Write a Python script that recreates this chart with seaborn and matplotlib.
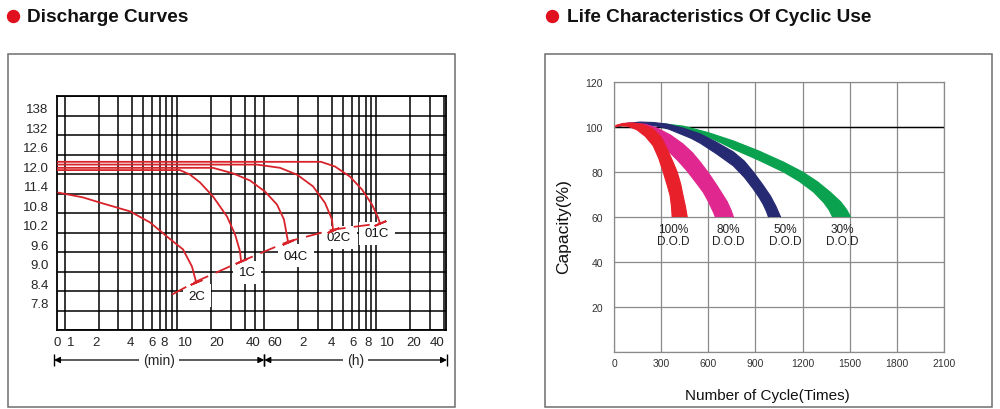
import numpy as np
import pandas as pd
import matplotlib
matplotlib.use("Agg")
import matplotlib.pyplot as plt
import seaborn as sns
from matplotlib.patches import Rectangle
from matplotlib.lines import Line2D
from matplotlib.ticker import FixedLocator, NullFormatter
from matplotlib.transforms import ScaledTranslation

# ---------------- Discharge curves (time in minutes, voltage) ----------------
c2_t = [0.868, 1.449, 2.055, 3.805, 5.74, 8.30, 11.30, 13.59, 14.75]
c2_v = [11.43, 11.28, 11.12, 10.85, 10.51, 10.05, 9.68, 9.15, 8.69]
c1_t = [0.85, 10.62, 13.05, 16.01, 20.9, 27.9, 32.9, 36.4, 37.2]
c1_v = [12.12, 12.12, 11.98, 11.74, 11.31, 10.69, 10.14, 9.62, 9.31]
c04_t = [0.85, 20.9, 31.5, 44.7, 60.8, 77.8, 89.8, 97.5]
c04_v = [12.19, 12.19, 12.02, 11.80, 11.46, 11.06, 10.60, 9.92]
c02_t = [0.85, 51.6, 82.8, 117.3, 163, 208.5, 240.7, 245.7]
c02_v = [12.29, 12.29, 12.19, 11.98, 11.62, 11.11, 10.60, 10.29]
c01_t = [0.85, 192, 256, 348, 446, 547, 619, 645]
c01_v = [12.375, 12.375, 12.23, 11.92, 11.52, 11.06, 10.66, 10.48]
end_t = [9.01, 14.75, 37.2, 97.5, 245.7, 645]
end_v = [8.29, 8.69, 9.31, 9.92, 10.29, 10.48]

rate_names = ["2C", "1C", "04C", "02C", "01C"]
rate_lab_t = [15.1, 42, 115, 278, 607]
rate_lab_v = [8.26, 8.97, 9.49, 10.05, 10.17]

xtick_t = [0.85, 1, 2, 4, 6, 8, 10, 20, 40, 60, 120, 240, 360, 480, 600, 1200, 2400]
xtick_lab = ["0", "1", "2", "4", "6", "8", "10", "20", "40", "60",
             "2", "4", "6", "8", "10", "20", "40"]
ytick_v = [7.2, 7.8, 8.4, 9.0, 9.6, 10.2, 10.8, 11.4, 12.0, 12.6, 13.2, 13.8, 14.4]
ytick_lab = ["", "7.8", "8.4", "9.0", "9.6", "10.2", "10.8", "11.4", "12.0",
             "12.6", "132", "138", ""]

# ---------------- Cycle life bands (cycles, capacity %) ----------------
red_out_x = [0, 20, 60, 121, 185, 249, 300, 338, 372, 402, 425, 440, 455, 466]
red_out_y = [100, 100.9, 101.6, 101.8, 101.1, 99.1, 95.5, 90.2, 85, 80, 74.5, 69.3, 64.5, 60]
red_in_x = [0, 38, 90, 145, 200, 249, 285, 313, 337, 357, 366, 370]
red_in_y = [100, 100.6, 100.3, 98.8, 95.8, 91.7, 86, 80, 74.5, 69.5, 64.5, 60]

pink_out_x = [0, 50, 100, 200, 274, 360, 440, 500, 549, 605, 657, 693, 721, 745, 760]
pink_out_y = [100, 101.3, 101.8, 101.2, 99.5, 96.4, 92.4, 88.5, 84.4, 79.2, 73.8, 69.8, 66.7, 63, 60]
pink_in_x = [0, 60, 150, 230, 290, 338, 405, 466, 520, 568, 600, 620, 635, 645]
pink_in_y = [100, 101, 99.5, 96, 92.9, 89.8, 85.2, 80.4, 75.5, 71, 67, 64, 61.8, 60]

navy_out_x = [0, 80, 166, 250, 338, 440, 549, 650, 760, 830, 887, 945, 996, 1030, 1060]
navy_out_y = [100, 101.6, 102.2, 102, 101.3, 99.5, 96.9, 93.3, 88.9, 84.8, 80, 74.5, 69.3, 64.8, 60]
navy_in_x = [0, 120, 200, 274, 350, 420, 490, 549, 650, 760, 830, 887, 925, 950, 970, 983]
navy_in_y = [100, 101.5, 101.1, 100.4, 99, 97, 95, 92.8, 88.2, 82.7, 77.6, 72.4, 68.5, 65.5, 62.5, 60]

green_out_x = [0, 120, 230, 330, 440, 600, 760, 920, 1079, 1200, 1296, 1380, 1443, 1480, 1506]
green_out_y = [100, 101.6, 101.8, 101.3, 100.4, 97.5, 93.8, 89.4, 84.4, 80, 75.6, 70.8, 66.7, 63.3, 60]
green_in_x = [0, 100, 200, 300, 402, 500, 600, 680, 760, 920, 1079, 1180, 1270, 1335, 1370, 1391]
green_in_y = [100, 101, 101.3, 100.7, 99.6, 97.8, 95.5, 93, 90.2, 85.3, 80, 75.8, 71.1, 66.4, 63, 60]

dod_labels = ["100%\nD.O.D", "80%\nD.O.D", "50%\nD.O.D", "30%\nD.O.D"]
dod_x = [377, 725, 1090, 1450]
dod_y = [57.5, 57.5, 57.5, 57.5]

# ---------------- style ----------------
sns.set_style("white")
plt.rcParams["font.family"] = ["Liberation Sans", "DejaVu Sans"]
RED = "#d8232a"

fig = plt.figure(figsize=(10, 4.1), dpi=100)

# outer frames
for x0 in (8 / 1000, 545 / 1000):
    fig.add_artist(Rectangle((x0, 2 / 410), 447 / 1000, 353 / 410,
                             transform=fig.transFigure, fill=False,
                             ec="#6e6e6e", lw=1.1))

# titles with red dots
for xd, xt, title in ((13, 27, "Discharge Curves"),
                      (552, 567, "Life Characteristics Of Cyclic Use")):
    fig.add_artist(Line2D([xd / 1000], [1 - 17 / 410], marker="o", ms=8.6,
                          color="#e0101e", transform=fig.transFigure))
    fig.text(xt / 1000, 1 - 17 / 410, title, fontsize=13.7, weight="bold",
             va="center", ha="left", color="#111111")

# ================= Left chart =================
axL = fig.add_axes([57 / 1000, 1 - 331 / 410, 389 / 1000, 234 / 410])
axL.set_xscale("log")
axL.set_xlim(0.85, 2500)
axL.set_ylim(7.2, 14.4)

grid_t = list(range(1, 11)) + [20, 30, 40, 50, 60] + \
    [60 * h for h in range(2, 11)] + [1200, 1800, 2400]
axL.xaxis.remove_overlapping_locs = False
axL.xaxis.set_minor_locator(FixedLocator(grid_t))
axL.xaxis.set_minor_formatter(NullFormatter())
axL.set_xticks(xtick_t)
axL.set_xticklabels(xtick_lab, fontsize=9.5)
axL.set_yticks(ytick_v)
axL.set_yticklabels(ytick_lab, fontsize=9.5, va="bottom")
axL.tick_params(axis="both", which="both", length=0)
axL.tick_params(axis="x", pad=4)
axL.tick_params(axis="y", pad=6)
axL.grid(True, which="minor", axis="x", color="black", lw=1.1)
axL.grid(True, which="major", axis="y", color="black", lw=1.1)
axL.grid(False, which="major", axis="x")
for s in axL.spines.values():
    s.set_color("black")
    s.set_linewidth(1.3)

curves = pd.concat([
    pd.DataFrame({"t": t, "v": v, "rate": r})
    for t, v, r in ((c2_t, c2_v, "2C"), (c1_t, c1_v, "1C"), (c04_t, c04_v, "04C"),
                    (c02_t, c02_v, "02C"), (c01_t, c01_v, "01C"))
])
sns.lineplot(data=curves, x="t", y="v", units="rate", estimator=None,
             sort=False, color=RED, lw=1.3, ax=axL, zorder=4)
sns.lineplot(x=end_t, y=end_v, sort=False, color=RED, lw=1.3,
             linestyle=(0, (9, 4.5)), ax=axL, zorder=4)
axL.plot(end_t[1:], end_v[1:], ls="none", marker=(2, 2, -67), ms=9,
         mec=RED, mew=1.3, zorder=4)
for lab, t, v in zip(rate_names, rate_lab_t, rate_lab_v):
    axL.text(t, v, lab, ha="center", va="center", fontsize=9.5, color="#111111",
             zorder=3, bbox=dict(fc="white", ec="none", pad=4))
axL.set_xlabel("")
axL.set_ylabel("")

# (min) / (h) arrows below the axis
yA = -(361 - 331) / 234
xtr = axL.get_xaxis_transform()
for a, b, lab in ((0.80, 60, "(min)"), (60, 2552, "(h)")):
    axL.annotate("", xy=(a, yA), xytext=(b, yA), xycoords=xtr, textcoords=xtr,
                 arrowprops=dict(arrowstyle="<|-|>", color="black", lw=0.9,
                                 shrinkA=0, shrinkB=0, mutation_scale=9),
                 annotation_clip=False)
    axL.plot([a, b], [yA, yA], ls="none", marker="|", ms=8, mew=1,
             color="black", transform=xtr, clip_on=False)
    axL.text(np.sqrt(a * b), yA, lab, transform=xtr, ha="center", va="center",
             fontsize=10, bbox=dict(fc="white", ec="none", pad=3), clip_on=False)

# nudge x tick labels to sit where the original prints them (pixels)
label_nudge = [0, 6, -3, -2, 0, -2, 8, 6, 8, 10, 5, 0, 1, 2, 11, 3, -7]
for tick, dx in zip(axL.xaxis.get_major_ticks(), label_nudge):
    tick.label1.set_transform(tick.label1.get_transform() +
                              ScaledTranslation(dx / 100, 0, fig.dpi_scale_trans))

# ================= Right chart =================
axR = fig.add_axes([614 / 1000, 1 - 353 / 410, 330 / 1000, 270 / 410])
axR.set_xlim(0, 2100)
axR.set_ylim(0, 120)
xt_R = list(range(0, 2101, 300))
yt_R = list(range(0, 121, 20))
axR.set_xticks(xt_R)
axR.set_yticks(yt_R)
axR.set_xticklabels([str(v) for v in xt_R], fontsize=7.5, color="#333333")
axR.set_yticklabels([""] + [str(v) for v in yt_R[1:]], fontsize=7.5, color="#333333")
axR.tick_params(length=0)
axR.tick_params(axis="x", pad=4)
axR.tick_params(axis="y", pad=8)
axR.grid(True, color="#8a8a8a", lw=0.9)
axR.set_axisbelow(True)
for s in axR.spines.values():
    s.set_color("#8a8a8a")
    s.set_linewidth(0.9)
axR.axhline(100, color="black", lw=1.0, zorder=1)

for ox, oy, ix, iy, col in (
        (green_out_x, green_out_y, green_in_x, green_in_y, "#0aa24f"),
        (navy_out_x, navy_out_y, navy_in_x, navy_in_y, "#262a72"),
        (pink_out_x, pink_out_y, pink_in_x, pink_in_y, "#e0268f"),
        (red_out_x, red_out_y, red_in_x, red_in_y, "#e8202a")):
    axR.fill(ox + ix[::-1], oy + iy[::-1], color=col, lw=0, zorder=2)
    sns.lineplot(x=ox, y=oy, sort=False, color=col, lw=0.8, ax=axR, zorder=2)
    sns.lineplot(x=ix, y=iy, sort=False, color=col, lw=0.8, ax=axR, zorder=2)

for lab, x, y in zip(dod_labels, dod_x, dod_y):
    axR.text(x, y, lab, ha="center", va="top", fontsize=8.5, color="#222222",
             linespacing=1.0, zorder=3)

axR.set_xlabel("Number of Cycle(Times)", fontsize=11, color="#111111")
axR.set_ylabel("Capacity(%)", fontsize=12.5, color="#111111")
axR.xaxis.set_label_coords(0.464, -0.135)
axR.yaxis.set_label_coords(-0.13, 0.47)

fig.savefig("out.png", dpi=100, facecolor="white")
